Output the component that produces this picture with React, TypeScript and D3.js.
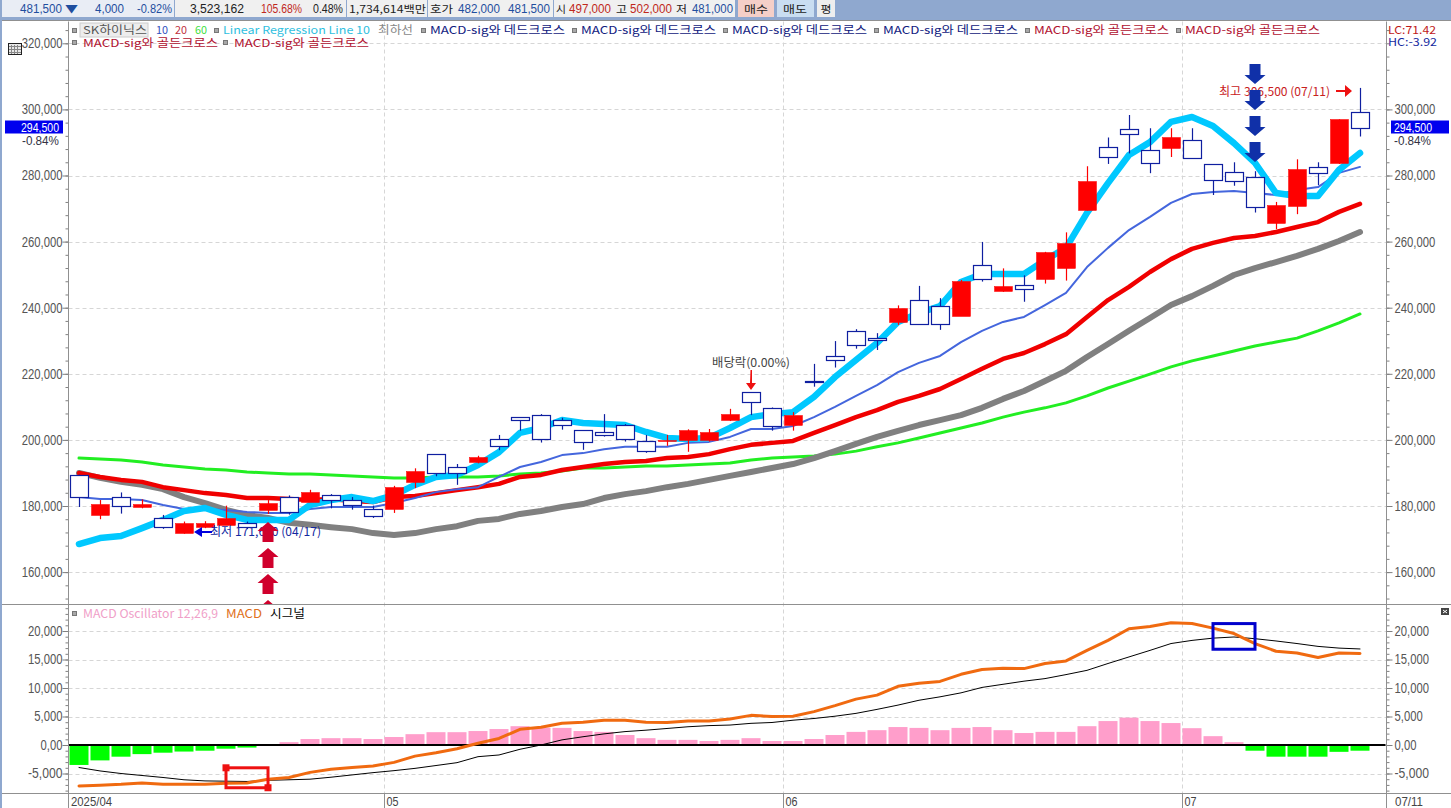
import { useEffect, useRef } from 'react'
import * as d3 from 'd3'

const days = [
  '04/10', '04/11', '04/14', '04/15', '04/16', '04/17', '04/18', '04/21', '04/22', '04/23', '04/24', '04/25', '04/28', '04/29', '04/30',
  '05/02', '05/07', '05/08', '05/09', '05/12', '05/13', '05/14', '05/15', '05/16', '05/19', '05/20', '05/21', '05/22', '05/23', '05/26', '05/27', '05/28', '05/29', '05/30',
  '06/02', '06/04', '06/05', '06/09', '06/10', '06/11', '06/12', '06/13', '06/16', '06/17', '06/18', '06/19', '06/20', '06/23', '06/24', '06/25', '06/26', '06/27', '06/30',
  '07/01', '07/02', '07/03', '07/04', '07/07', '07/08', '07/09', '07/10', '07/11',
]

const opens = [
  189500, 177400, 182600, 179800, 176300, 171700, 173700, 174300, 174800, 178800, 182600, 181200, 183200, 181700, 179100,
  179100, 187400, 195600, 191700, 193400, 200200, 206800, 207400, 206000, 202900, 202300, 204400, 199600, 199600, 199900, 200000, 206000, 214400, 209800,
  204600, 217800, 225300, 232900, 230700, 235700, 242200, 240400, 237600, 252800, 245100, 246800, 248800, 252100, 269500, 288700, 294200, 287800, 288200,
  290800, 283400, 281000, 279500, 265700, 270900, 282500, 283900, 299300,
]
const highs = [
  189500, 181800, 184100, 182000, 177300, 175300, 175400, 180100, 175300, 181800, 183200, 184900, 183600, 182700, 180100,
  186100, 191400, 195600, 192700, 195200, 201500, 206800, 207800, 206700, 202900, 207800, 204800, 201500, 201500, 203200, 203300, 209400, 214400, 209800,
  208400, 223000, 229900, 233500, 232300, 240700, 246600, 242900, 248400, 259900, 251900, 249800, 256900, 262800, 282800, 291500, 298300, 294300, 294300,
  294300, 283400, 284000, 281300, 272000, 284900, 284000, 297000, 306500,
]
const lows = [
  179700, 176000, 177700, 179300, 173100, 171600, 173300, 174300, 173000, 177600, 177400, 181200, 179300, 178900, 176400,
  177900, 185400, 189000, 186400, 192900, 196900, 202800, 199200, 203100, 197000, 201000, 199500, 196100, 198200, 196400, 199500, 205700, 207500, 202800,
  202800, 216100, 221900, 227600, 227200, 234800, 234900, 233300, 237600, 247900, 244800, 241800, 247300, 248200, 269400, 283500, 286700, 280700, 285600,
  285300, 274100, 276900, 268800, 263800, 268300, 277100, 283500, 291800,
]
const closes = [
  182700, 180600, 179900, 180600, 173700, 174800, 174900, 176300, 173600, 180900, 178100, 184200, 181700, 180400, 177100,
  185700, 190600, 190100, 189900, 194800, 198300, 205900, 200200, 204400, 199300, 201600, 200200, 196600, 200000, 203000, 202400, 207800, 211600, 204300,
  207500, 217400, 224300, 228800, 230300, 239900, 235200, 235200, 248100, 248800, 246600, 245800, 256900, 259600, 278300, 285500, 292600, 283800, 291800,
  285300, 278700, 278300, 270400, 271100, 281900, 280900, 297000, 294500,
]

const ma10 = [
  182700, 182100, 182100, 181800, 180300, 179100, 179100, 178800, 178200, 177900, 177900, 179100, 179700, 179700, 179700,
  180900, 182400, 184200, 185100, 185700, 188800, 191800, 193300, 195400, 196000, 197200, 197900, 197900, 197900, 199100, 199400, 200900, 203300, 203300,
  204200, 206900, 210000, 213300, 216600, 220500, 223300, 225400, 229600, 233000, 235700, 237200, 240800, 244500, 252300, 258100, 263500, 267500, 271700,
  274400, 275000, 275300, 274700, 274100, 275600, 276500, 280800, 282600,
]
const ma20 = [
  190000, 188800, 187900, 187300, 185700, 184800, 183900, 183300, 182400, 182400, 182100, 181800, 182100, 181500, 181200,
  182700, 183000, 183900, 184800, 185700, 186700, 188800, 189400, 190900, 191800, 192700, 193300, 193600, 194500, 194800, 195700, 197200, 198500, 199100,
  199700, 202100, 204500, 206900, 209000, 211500, 213300, 215400, 218400, 221500, 224500, 226300, 229000, 232000, 237200, 242300, 246300, 250800, 254700,
  257800, 259600, 261100, 261700, 262900, 264400, 265900, 269000, 271400,
]
const ma60 = [
  194500, 194200, 193900, 193300, 192400, 191800, 191200, 190900, 190300, 190000, 189700, 189700, 189400, 189100, 188800,
  188500, 188500, 188800, 188800, 188800, 189100, 189700, 190000, 190600, 191500, 191500, 191800, 192100, 192100, 192400, 192700, 193000, 193900, 194500,
  194800, 195100, 195700, 196600, 197900, 199100, 200600, 202100, 203600, 205100, 206900, 208400, 209700, 211200, 213300, 215700, 217800, 219900, 222100,
  223900, 225400, 226900, 228400, 229600, 230800, 233000, 235400, 238100,
]
const regression = [
  168500, 170300, 170900, 173300, 175800, 178500, 179400, 177300, 175800, 175800, 175800, 180300, 181800, 182700, 181500,
  183300, 186400, 188800, 189400, 192400, 196300, 202100, 203600, 206000, 205100, 204800, 204500, 202400, 200600, 200300, 200600, 203600, 206900, 207800,
  208400, 213000, 219000, 224200, 229300, 235700, 238400, 240500, 247800, 250200, 250200, 250200, 254400, 258100, 268700, 277700, 286200, 290100, 296200,
  297700, 295000, 289800, 283800, 274700, 273800, 273800, 281700, 286800,
]
const lowLine = [
  190000, 188500, 187300, 186400, 185100, 182700, 180900, 178800, 177300, 176400, 174900, 174300, 173600, 173000, 171800,
  171200, 171800, 173000, 173900, 175500, 176100, 177600, 178500, 179700, 180600, 182400, 183600, 184500, 185700, 186700, 187900, 189100, 190300, 191500,
  192700, 194500, 196600, 198800, 200900, 202700, 204500, 206000, 207500, 209700, 212400, 214800, 217800, 220900, 225100, 229000, 233000, 236900, 240800,
  243500, 246600, 249900, 252000, 253800, 255700, 257800, 260200, 262900,
]

const oscillator = [
  -3500, -2700, -2050, -1600, -1350, -1150, -1000, -650, -450, -50, 500, 1050, 1200, 1200, 1050,
  1400, 1900, 2250, 2250, 2450, 2800, 3300, 3050, 3000, 2450, 2300, 1750, 1200, 900, 900, 700, 900, 1200, 700,
  700, 1050, 1750, 2300, 2600, 3150, 3000, 2600, 3000, 3150, 2600, 2100, 2300, 2300, 3300, 4200, 4800, 4200, 3850,
  2950, 1550, 500, -1000, -2050, -2050, -2050, -1200, -1000,
]
const macd = [
  -7200, -7050, -6900, -6650, -6900, -6900, -6900, -6700, -6650, -6000, -5700, -4800, -4250, -3950, -3700,
  -3050, -1950, -1350, -650, 300, 1150, 2750, 3100, 3800, 4000, 4350, 4350, 4000, 3950, 4200, 4200, 4550, 5200, 5000,
  5050, 5850, 6900, 8050, 8750, 10300, 10850, 11150, 12400, 13250, 13450, 13400, 14300, 14750, 16600, 18350, 20400, 20800, 21450,
  21300, 20500, 19550, 17800, 16450, 16150, 15350, 16150, 16050,
]
const signal = [
  -3950, -4550, -5000, -5350, -5700, -6100, -6300, -6350, -6400, -6200, -6100, -6000, -5650, -5250, -4850,
  -4500, -4100, -3600, -3100, -2050, -1750, -750, 0, 900, 1450, 1950, 2350, 2600, 2900, 3200, 3400, 3500, 3800, 3950,
  4350, 4650, 5050, 5550, 6250, 7000, 7850, 8450, 9150, 10100, 10650, 11200, 11650, 12350, 13100, 14300, 15450, 16600, 17800,
  18350, 18750, 18950, 18650, 18250, 17800, 17300, 17000, 16850,
]

const priceTicks = [160000, 180000, 200000, 220000, 240000, 260000, 280000, 300000, 320000]
const macdTicks = [-5000, 0, 5000, 10000, 15000, 20000]
const monthStarts = ['05/02', '06/02', '07/01']
const monthLabels = ['05', '06', '07']
const legendDead = ['MACD-sig와 데드크로스', 'MACD-sig와 데드크로스', 'MACD-sig와 데드크로스', 'MACD-sig와 데드크로스']
const legendGold = ['MACD-sig와 골든크로스', 'MACD-sig와 골든크로스']

const sans = '"Noto Sans CJK KR", "Liberation Sans", sans-serif'
const latin = '"Liberation Sans", sans-serif'

// width the source font gives a number label
const labelWidth = (s: string) => {
  let w = 0
  for (const c of s) w += c === ',' || c === '.' ? 3 : 6.3
  return w
}

const App = () => {
  const svgRef = useRef<SVGSVGElement>(null)

  useEffect(() => {
    if (!svgRef.current) return

    // Clear previous content
    d3.select(svgRef.current).selectAll('*').remove()
    const svg = d3.select(svgRef.current)

    const left = 68.5
    const right = 1386.5
    const top = 21.5
    const split = 604.5
    const bottom = 793.5

    const x = d3.scalePoint<string>().domain(days).range([79, 1360])
    const y = d3.scaleLinear().domain([300000, 180000]).range([109.4, 506])
    const yMacd = d3.scaleLinear().domain([20000, 0]).range([631, 745])
    const step = x.step()
    const bodyW = 18

    const text = (
      px: number,
      py: number,
      s: string,
      fill: string,
      width?: number,
      opts: { anchor?: string; size?: number; font?: string } = {}
    ) => {
      const t = svg
        .append('text')
        .attr('x', px)
        .attr('y', py)
        .attr('fill', fill)
        .attr('text-anchor', opts.anchor ?? 'start')
        .style('font-family', opts.font ?? sans)
        .style('font-size', `${opts.size ?? 12}px`)
        .text(s)
      if (width) t.attr('textLength', width).attr('lengthAdjust', 'spacingAndGlyphs')
      return t
    }

    svg.append('rect').attr('width', 1451).attr('height', 808).attr('fill', '#fff')

    // Top toolbar
    svg.append('rect').attr('width', 1451).attr('height', 21).attr('fill', '#8FA8CF')
    svg.append('rect').attr('x', 0).attr('y', 0).attr('width', 2).attr('height', 808).attr('fill', '#8FA8CF')
    const cells = [
      [2, 172, '#E9EDF5'],
      [175, 171, '#F0F0F0'],
      [347, 80, '#F0F0F0'],
      [428, 125, '#F0F0F0'],
      [554, 181, '#F0F0F0'],
      [738, 36, '#F4CFC8'],
      [777, 37, '#C9DDF1'],
      [817, 18, '#EEEEEE'],
    ] as [number, number, string][]
    cells.forEach(([cx, w, c]) => {
      svg.append('rect').attr('x', cx).attr('y', 0).attr('width', w).attr('height', 17).attr('fill', c)
    })
    const blue = '#1F4E9E'
    const darkRed = '#C0281C'
    const dark = '#222'
    const bar = { font: latin, size: 12 }
    const barKo = { size: 10.5 }
    text(20, 13, '481,500', blue, 42, bar)
    text(65, 13, '▼', blue, 13, barKo)
    text(95, 13, '4,000', blue, 29, bar)
    text(137, 13, '-0.82%', blue, 35, bar)
    text(190, 13, '3,523,162', dark, 54, bar)
    text(261, 13, '105.68%', darkRed, 41, bar)
    text(313, 13, '0.48%', dark, 30, bar)
    text(349, 13, '1,734,614백만', dark, 77, barKo)
    text(430, 13, '호가', dark, 23, barKo)
    text(458, 13, '482,000', blue, 42, bar)
    text(508, 13, '481,500', blue, 42, bar)
    text(556, 13, '시', dark, 10, barKo)
    text(569, 13, '497,000', darkRed, 42, bar)
    text(616, 13, '고', dark, 11, barKo)
    text(630, 13, '502,000', darkRed, 42, bar)
    text(676, 13, '저', dark, 11, barKo)
    text(692, 13, '481,000', blue, 41, bar)
    text(756, 13, '매수', dark, 24, { anchor: 'middle', size: 10.5 })
    text(795, 13, '매도', dark, 24, { anchor: 'middle', size: 10.5 })
    text(826, 13, '평', dark, 11, { anchor: 'middle', size: 10.5 })

    // Horizontal and vertical grid
    const gridColor = '#D6D6D6'
    const hGrid = (ticks: number[], scale: d3.ScaleLinear<number, number>) => {
      ticks.forEach((t) => {
        svg
          .append('line')
          .attr('x1', left)
          .attr('x2', right)
          .attr('y1', Math.round(scale(t)) + 0.5)
          .attr('y2', Math.round(scale(t)) + 0.5)
          .attr('stroke', gridColor)
          .attr('stroke-dasharray', '4 3')
      })
    }
    hGrid(priceTicks, y)
    hGrid(macdTicks, yMacd)
    monthStarts.forEach((d) => {
      const gx = Math.round(x(d)! - step / 2) + 0.5
      svg
        .append('line')
        .attr('x1', gx)
        .attr('x2', gx)
        .attr('y1', top)
        .attr('y2', bottom)
        .attr('stroke', gridColor)
        .attr('stroke-dasharray', '4 3')
    })

    // Axes, both sides, with minor ticks
    const drawAxis = (
      scale: d3.ScaleLinear<number, number>,
      major: number[],
      minor: number[],
      format: (v: number) => string,
      rightMajor: number[]
    ) => {
      ;[
        { pos: left, gen: d3.axisLeft, ticks: major, pad: 0 },
        { pos: right, gen: d3.axisRight, ticks: rightMajor, pad: 2 },
      ].forEach(({ pos, gen, ticks, pad }) => {
        const g = svg.append('g').attr('transform', `translate(${pos},0)`)
        g.call(gen(scale).tickValues(minor).tickSize(3).tickFormat(() => ''))
        g.append('g').call(
          gen(scale)
            .tickValues(ticks)
            .tickSize(6)
            .tickPadding(pad)
            .tickFormat((v) => format(v as number))
        )
        g.selectAll('.domain').remove()
        g.selectAll('line').attr('stroke', '#808080')
        g.selectAll<SVGTextElement, unknown>('text')
          .filter(function () {
            return (this.textContent ?? '') !== ''
          })
          .attr('fill', '#555')
          .attr('textLength', function () {
            return labelWidth(this.textContent ?? '')
          })
          .attr('lengthAdjust', 'spacingAndGlyphs')
          .style('font-family', latin)
          .style('font-size', '14px')
      })
    }
    drawAxis(
      y,
      priceTicks,
      d3.range(152000, 326000, 4000),
      d3.format(','),
      priceTicks.filter((t) => t < 320000)
    )
    drawAxis(
      yMacd,
      macdTicks,
      d3.range(-8000, 25000, 1000),
      (v) => (v === 0 ? '0,00' : d3.format(',')(v).replace('−', '-')),
      macdTicks
    )

    // MACD oscillator bars
    svg
      .append('g')
      .selectAll('rect')
      .data(oscillator)
      .join('rect')
      .attr('x', (_, i) => x(days[i])! - 9.5)
      .attr('width', 19)
      .attr('y', (d) => Math.min(yMacd(d), yMacd(0)))
      .attr('height', (d) => Math.abs(yMacd(d) - yMacd(0)))
      .attr('fill', (d) => (d >= 0 ? '#FF9ECB' : '#00FF00'))

    svg
      .append('line')
      .attr('x1', left)
      .attr('x2', right - 1)
      .attr('y1', yMacd(0))
      .attr('y2', yMacd(0))
      .attr('stroke', '#000')
      .attr('stroke-width', 2)

    const drawLine = (
      values: number[],
      scale: d3.ScaleLinear<number, number>,
      color: string,
      width: number
    ) => {
      const line = d3
        .line<number>()
        .x((_, i) => x(days[i])!)
        .y((d) => scale(d))
      svg
        .append('path')
        .attr('d', line(values))
        .attr('fill', 'none')
        .attr('stroke', color)
        .attr('stroke-width', width)
        .attr('stroke-linejoin', 'round')
        .attr('stroke-linecap', 'round')
    }

    drawLine(signal, yMacd, '#000', 1)
    drawLine(macd, yMacd, '#F06A10', 3)

    // Signal boxes on the MACD panel
    const markBox = (d0: string, d1: string, hi: number, lo: number, color: string, handles: boolean) => {
      const bx = x(d0)!
      const by = yMacd(hi)
      const bw = x(d1)! - bx
      const bh = yMacd(lo) - by
      svg
        .append('rect')
        .attr('x', bx)
        .attr('y', by)
        .attr('width', bw)
        .attr('height', bh)
        .attr('fill', 'none')
        .attr('stroke', color)
        .attr('stroke-width', 3)
      if (handles) {
        svg.append('rect').attr('x', bx - 3.5).attr('y', by - 3.5).attr('width', 7).attr('height', 7).attr('fill', color)
        svg.append('rect').attr('x', bx + bw - 3.5).attr('y', by + bh - 3.5).attr('width', 7).attr('height', 7).attr('fill', color)
      }
    }
    markBox(days[7], days[9], -4000, -7500, '#EE1111', true)
    markBox(days[54], days[56], 21300, 16800, '#0000CC', false)

    // Price lines
    drawLine(ma60, y, '#22EE22', 3)
    drawLine(lowLine, y, '#808080', 6)
    drawLine(ma20, y, '#F00000', 4.5)
    drawLine(ma10, y, '#4466DD', 2)
    drawLine(regression, y, '#00C8FF', 6.5)

    // Candles: red is up, hollow blue is down
    const candleBlue = '#0F1FA0'
    days.forEach((d, i) => {
      const cx = Math.round(x(d)!) + 0.5
      const up = closes[i] >= opens[i]
      const yTop = Math.round(y(Math.max(opens[i], closes[i]))) + 0.5
      const yBot = Math.round(y(Math.min(opens[i], closes[i]))) + 0.5
      const color = up ? '#FF0000' : candleBlue
      svg
        .append('line')
        .attr('x1', cx)
        .attr('x2', cx)
        .attr('y1', y(highs[i]))
        .attr('y2', y(lows[i]))
        .attr('stroke', color)
        .attr('stroke-width', 1.2)
      svg
        .append('rect')
        .attr('x', cx - bodyW / 2)
        .attr('y', yTop)
        .attr('width', bodyW)
        .attr('height', Math.max(yBot - yTop, 1))
        .attr('fill', up ? '#FF0000' : '#fff')
        .attr('stroke', up ? '#FF0000' : candleBlue)
        .attr('stroke-width', up ? 0.5 : 1.2)
    })

    // Low / high / ex-dividend annotations
    const lowDay = x('04/17')!
    text(lowDay + 26, 536, '최저 171,600 (04/17)', '#1428A0', 111)
    svg.append('path').attr('d', `M${lowDay + 10},532 l8,-5 v4 h10 v2 h-10 v4 z`).attr('fill', '#0000DD')

    text(1219, 96, '최고 306,500 (07/11)', '#C8201C', 111)
    svg.append('path').attr('d', 'M1336,90 h9 v-5 l7,6 l-7,6 v-5 h-9 z').attr('fill', '#EE1111')

    text(712, 367, '배당락(0.00%)', '#444', 78)
    svg.append('path').attr('d', 'M750.5,370 h1.5 v13 h4 l-5,7 l-5,-7 h4 z').attr('fill', '#EE1111')

    // Signal arrows
    const bigArrow = (cx: number, tip: number, dir: 1 | -1, color: string, clipBottom?: number) => {
      const p = d3.path()
      p.moveTo(cx, tip)
      p.lineTo(cx + 10.5, tip + dir * -9)
      p.lineTo(cx + 5.5, tip + dir * -9)
      p.lineTo(cx + 5.5, tip + dir * -20)
      p.lineTo(cx - 5.5, tip + dir * -20)
      p.lineTo(cx - 5.5, tip + dir * -9)
      p.lineTo(cx - 10.5, tip + dir * -9)
      p.closePath()
      const a = svg.append('path').attr('d', p.toString()).attr('fill', color)
      if (clipBottom) a.attr('clip-path', `url(#priceClip)`)
    }
    svg
      .append('defs')
      .append('clipPath')
      .attr('id', 'priceClip')
      .append('rect')
      .attr('width', 1451)
      .attr('height', split)
    const deadX = x(days[56])!
    ;[84, 110, 136, 162].forEach((tip) => bigArrow(deadX, tip, 1, '#1030A8'))
    const goldX = x(days[9])!
    ;[522, 548, 574, 600].forEach((tip) => bigArrow(goldX, tip, -1, '#D0002C', split))

    // Panel frame
    const frame = '#909090'
    ;[left, right].forEach((fx) => {
      svg.append('line').attr('x1', fx).attr('x2', fx).attr('y1', top).attr('y2', 808).attr('stroke', frame)
    })
    ;[top - 1, split, bottom].forEach((fy) => {
      svg.append('line').attr('x1', 2).attr('x2', 1451).attr('y1', fy).attr('y2', fy).attr('stroke', frame)
    })

    // Bottom date labels
    text(71, 806, '2025/04', '#444', 41, { font: latin, size: 13 })
    monthStarts.forEach((d, i) => {
      const gx = Math.round(x(d)! - step / 2) + 0.5
      svg.append('line').attr('x1', gx).attr('x2', gx).attr('y1', bottom).attr('y2', 808).attr('stroke', frame)
      text(gx + 2, 806, monthLabels[i], '#444', 12, { font: latin, size: 13 })
    })
    text(1395, 806, days[days.length - 1], '#444', 28, { font: latin, size: 13 })

    // Legend rows
    const square = (sx: number, sy: number) => {
      svg
        .append('rect')
        .attr('x', sx + 0.5)
        .attr('y', sy + 0.5)
        .attr('width', 4)
        .attr('height', 4)
        .attr('fill', '#A8A8A8')
        .attr('stroke', '#777')
    }
    square(72, 28)
    svg
      .append('rect')
      .attr('x', 80)
      .attr('y', 23)
      .attr('width', 68)
      .attr('height', 14)
      .attr('fill', '#EDEDED')
      .attr('stroke', '#CCC')
    const legendSize = { size: 11 }
    text(83, 34, 'SK하이닉스', '#555', 64, legendSize)
    text(156, 34, '10', '#3050C0', 12, legendSize)
    text(175, 34, '20', '#C03040', 12, legendSize)
    text(195, 34, '60', '#40E040', 12, legendSize)
    square(214, 28)
    text(223, 34, 'Linear Regression Line 10', '#30C0E0', 147, legendSize)
    text(378, 34, '최하선', '#888', 35, legendSize)
    ;[430, 581, 732, 883].forEach((lx, i) => {
      square(lx - 9, 28)
      text(lx, 34, legendDead[i], '#102080', 135, legendSize)
    })
    ;[1034, 1185].forEach((lx, i) => {
      square(lx - 9, 28)
      text(lx, 34, legendGold[i], '#B01030', 135, legendSize)
    })
    ;[83, 234].forEach((lx, i) => {
      square(lx - 11, 40)
      text(lx, 47, legendGold[i], '#B01030', 135, legendSize)
    })
    square(72, 611)
    text(83, 618, 'MACD Oscillator 12,26,9', '#F0A0C8', 135)
    text(226, 618, 'MACD', '#E07020', 36)
    text(270, 618, '시그널', '#000', 35)

    // LC / HC readout
    text(1388, 34, 'LC:71.42', '#C01818', 48, legendSize)
    text(1388, 46, 'HC:-3.92', '#1428A0', 49, legendSize)

    // Current price tags
    ;[5, 1391].forEach((tx) => {
      svg.append('rect').attr('x', tx).attr('y', 120.5).attr('width', 58).attr('height', 13).attr('fill', '#0000EE')
    })
    text(21, 132, '294,500', '#fff', 38, { font: latin, size: 12 })
    text(1394, 132, '294,500', '#fff', 38, { font: latin, size: 12 })
    text(22, 145, '-0.84%', '#334', 37, { font: latin, size: 12 })
    text(1394, 145, '-0.84%', '#334', 37, { font: latin, size: 12 })

    // Small window icons
    svg
      .append('rect')
      .attr('x', 8.5)
      .attr('y', 43.5)
      .attr('width', 13)
      .attr('height', 11)
      .attr('fill', '#E8E8E8')
      .attr('stroke', '#222')
    d3.range(0, 3).forEach((i) => {
      svg.append('line').attr('x1', 11.5 + i * 3).attr('x2', 11.5 + i * 3).attr('y1', 45).attr('y2', 54).attr('stroke', '#888')
      svg.append('line').attr('x1', 9).attr('x2', 21).attr('y1', 46.5 + i * 3).attr('y2', 46.5 + i * 3).attr('stroke', '#888')
    })
    svg.append('rect').attr('x', 1441).attr('y', 608).attr('width', 8).attr('height', 7).attr('fill', '#444')
    svg.append('path').attr('d', 'M1443,610 l4,3 M1447,610 l-4,3').attr('stroke', '#fff')
  }, [])

  return (
    <svg
      ref={svgRef}
      width={1451}
      height={808}
      style={{ position: 'fixed', left: 0, top: 0, display: 'block' }}
    />
  )
}

export default App
